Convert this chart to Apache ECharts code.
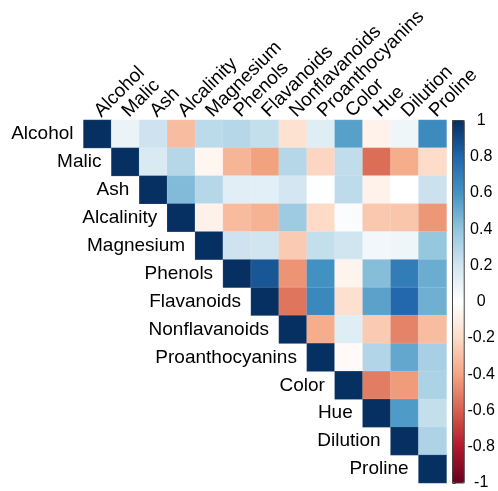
<!DOCTYPE html>
<html>
<head>
<meta charset="utf-8">
<script src="https://cdn.jsdelivr.net/npm/echarts@6/dist/echarts.min.js"></script>
<style>
  html, body { margin: 0; padding: 0; background: #fff; }
  #chart { width: 498px; height: 491px; }
</style>
</head>
<body>
<div id="chart"></div>
<script>
// Wine variables
const variables = ['Alcohol', 'Malic', 'Ash', 'Alcalinity', 'Magnesium', 'Phenols', 'Flavanoids',
  'Nonflavanoids', 'Proanthocyanins', 'Color', 'Hue', 'Dilution', 'Proline'];

// Upper triangle of the correlation matrix: row i holds columns i..12
const corrAlcohol       = [1, 0.09, 0.21, -0.31, 0.27, 0.29, 0.24, -0.16, 0.14, 0.55, -0.07, 0.07, 0.64];
const corrMalic         = [1, 0.16, 0.29, -0.05, -0.34, -0.41, 0.29, -0.22, 0.25, -0.56, -0.37, -0.19];
const corrAsh           = [1, 0.44, 0.29, 0.13, 0.12, 0.19, 0.01, 0.26, -0.07, 0.00, 0.22];
const corrAlcalinity    = [1, -0.08, -0.32, -0.35, 0.36, -0.20, 0.02, -0.27, -0.28, -0.44];
const corrMagnesium     = [1, 0.21, 0.20, -0.26, 0.24, 0.20, 0.06, 0.07, 0.39];
const corrPhenols       = [1, 0.86, -0.45, 0.61, -0.06, 0.43, 0.70, 0.50];
const corrFlavanoids    = [1, -0.54, 0.65, -0.17, 0.54, 0.79, 0.49];
const corrNonflavanoids = [1, -0.37, 0.14, -0.26, -0.50, -0.31];
const corrProantho      = [1, -0.03, 0.30, 0.52, 0.33];
const corrColor         = [1, -0.52, -0.43, 0.32];
const corrHue           = [1, 0.57, 0.24];
const corrDilution      = [1, 0.31];
const corrProline       = [1];

const corrRows = [corrAlcohol, corrMalic, corrAsh, corrAlcalinity, corrMagnesium, corrPhenols,
  corrFlavanoids, corrNonflavanoids, corrProantho, corrColor, corrHue, corrDilution, corrProline];

// Colour scale ticks
const scaleTicks = [-1, -0.8, -0.6, -0.4, -0.2, 0, 0.2, 0.4, 0.6, 0.8, 1];

// Diverging red-white-blue palette
const palette = ['#67001F', '#B2182B', '#D6604D', '#F4A582', '#FDDBC7', '#FFFFFF',
  '#D1E5F0', '#92C5DE', '#4393C3', '#2166AC', '#053061'];

const cells = [];
corrRows.forEach((row, i) => {
  row.forEach((v, k) => cells.push([i + k, i, v]));
});
const diagonal = variables.map((name, i) => [i, i, name]);

const FONT = 'Liberation Sans, Arial, sans-serif';
const chart = echarts.init(document.getElementById('chart'), null, { renderer: 'canvas' });

chart.setOption({
  backgroundColor: '#ffffff',
  animation: false,
  grid: [
    { left: 83.5, top: 120, width: 363, height: 363 },
    { left: 452.5, top: 120.5, width: 12, height: 362.5, show: true, z: 10,
      borderColor: '#444', borderWidth: 1, backgroundColor: 'transparent' }
  ],
  xAxis: [
    {
      type: 'category', data: variables, position: 'top', gridIndex: 0,
      axisLine: { show: false }, axisTick: { show: false }, splitLine: { show: false },
      axisLabel: { interval: 0, rotate: -45, margin: 6, fontSize: 19, color: '#000', fontFamily: FONT }
    },
    { type: 'value', gridIndex: 1, show: false, min: 0, max: 1 }
  ],
  yAxis: [
    { type: 'category', data: variables, inverse: true, gridIndex: 0, show: false },
    {
      type: 'value', gridIndex: 1, position: 'right', min: -1, max: 1, interval: 0.2,
      axisLine: { show: false },
      axisTick: { show: true, length: 3, lineStyle: { color: '#333' } },
      splitLine: { show: false },
      axisLabel: {
        margin: 17, align: 'center', fontSize: 16, color: '#000', fontFamily: FONT,
        formatter: v => String(+v.toFixed(1))
      }
    }
  ],
  visualMap: {
    type: 'continuous', min: -1, max: 1, seriesIndex: 0,
    inRange: { color: palette },
    calculable: false, text: null, showLabel: false,
    orient: 'vertical', left: 452.5, top: 120.5, itemWidth: 12, itemHeight: 362.5, padding: 0
  },
  series: [
    {
      type: 'heatmap', xAxisIndex: 0, yAxisIndex: 0, data: cells,
      itemStyle: { borderColor: 'rgba(255,255,255,0.25)', borderWidth: 0.5 },
      emphasis: { disabled: true }
    },
    {
      type: 'custom', xAxisIndex: 0, yAxisIndex: 0, data: diagonal, silent: true,
      renderItem: (params, api) => {
        const p = api.coord([api.value(0), api.value(1)]);
        const half = api.size([1, 1])[0] / 2;
        return {
          type: 'text',
          style: {
            x: p[0] - half - 10, y: p[1], text: variables[api.value(0)],
            textAlign: 'right', textVerticalAlign: 'middle',
            fontSize: 19, fontFamily: FONT, fill: '#000'
          }
        };
      }
    }
  ]
});
</script>
</body>
</html>
